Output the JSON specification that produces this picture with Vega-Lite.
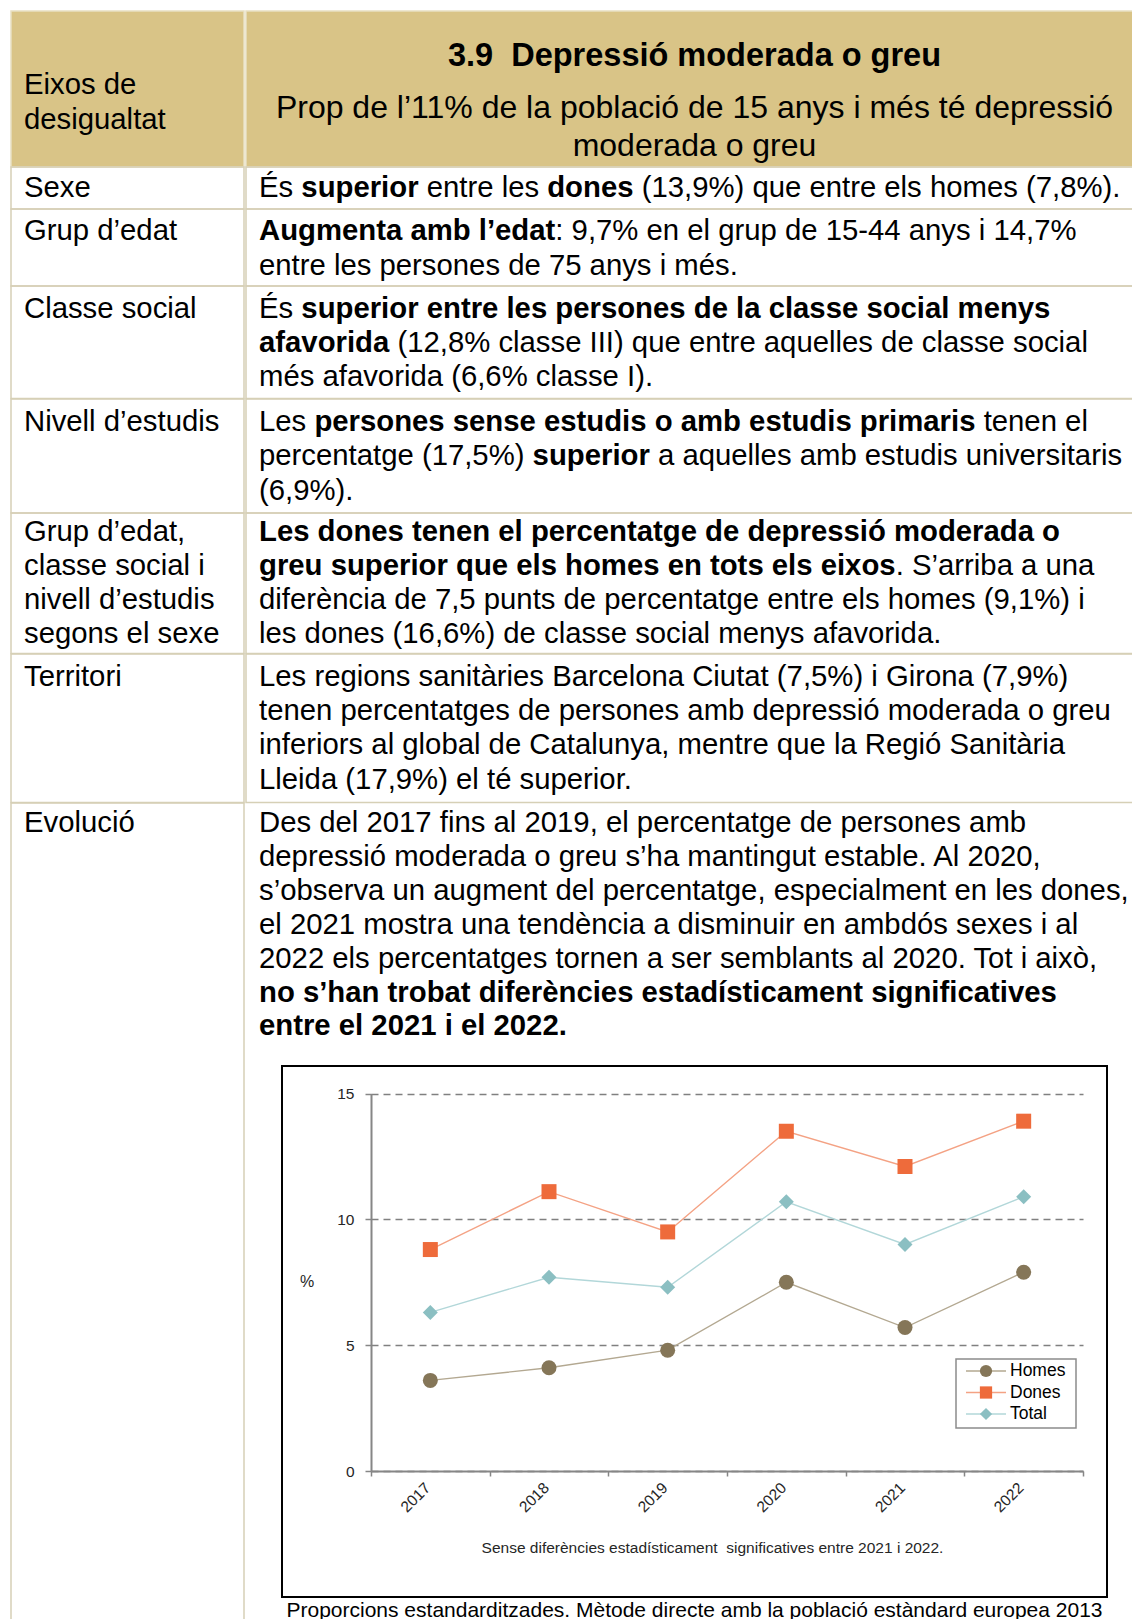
{
  "$schema": "https://vega.github.io/schema/vega-lite/v6.json",
  "padding": {"left": 10, "top": 10, "right": 0, "bottom": 0},
  "background": "white",
  "config": {"view": {"stroke": null}, "concat": {"spacing": 0}},
  "datasets": {
    "txt": [
      {"c": "hl", "ln": 0, "sg": 0, "t": "Eixos de", "strong": false},
      {"c": "hl", "ln": 1, "sg": 0, "t": "desigualtat", "strong": false},
      {"c": "hr", "ln": 0, "sg": 0, "t": "3.9\u00a0 Depressió moderada o greu", "strong": true},
      {"c": "hr", "ln": 1, "sg": 0, "t": "Prop de l’11% de la població de 15 anys i més té depressió", "strong": false},
      {"c": "hr", "ln": 2, "sg": 0, "t": "moderada o greu", "strong": false},
      {"c": "l1", "ln": 0, "sg": 0, "t": "Sexe", "strong": false},
      {"c": "r1", "ln": 0, "sg": 0, "t": "És ", "strong": false},
      {"c": "r1", "ln": 0, "sg": 1, "t": "superior ", "strong": true},
      {"c": "r1", "ln": 0, "sg": 2, "t": "entre les ", "strong": false},
      {"c": "r1", "ln": 0, "sg": 3, "t": "dones ", "strong": true},
      {"c": "r1", "ln": 0, "sg": 4, "t": "(13,9%) que entre els homes (7,8%).", "strong": false},
      {"c": "l2", "ln": 0, "sg": 0, "t": "Grup d’edat", "strong": false},
      {"c": "r2", "ln": 0, "sg": 0, "t": "Augmenta amb l’edat", "strong": true},
      {"c": "r2", "ln": 0, "sg": 1, "t": ": 9,7% en el grup de 15-44 anys i 14,7%", "strong": false},
      {"c": "r2", "ln": 1, "sg": 0, "t": "entre les persones de 75 anys i més.", "strong": false},
      {"c": "l3", "ln": 0, "sg": 0, "t": "Classe social", "strong": false},
      {"c": "r3", "ln": 0, "sg": 0, "t": "És ", "strong": false},
      {"c": "r3", "ln": 0, "sg": 1, "t": "superior entre les persones de la classe social menys", "strong": true},
      {"c": "r3", "ln": 1, "sg": 0, "t": "afavorida ", "strong": true},
      {"c": "r3", "ln": 1, "sg": 1, "t": "(12,8% classe III) que entre aquelles de classe social", "strong": false},
      {"c": "r3", "ln": 2, "sg": 0, "t": "més afavorida (6,6% classe I).", "strong": false},
      {"c": "l4", "ln": 0, "sg": 0, "t": "Nivell d’estudis", "strong": false},
      {"c": "r4", "ln": 0, "sg": 0, "t": "Les ", "strong": false},
      {"c": "r4", "ln": 0, "sg": 1, "t": "persones sense estudis o amb estudis primaris ", "strong": true},
      {"c": "r4", "ln": 0, "sg": 2, "t": "tenen el", "strong": false},
      {"c": "r4", "ln": 1, "sg": 0, "t": "percentatge (17,5%) ", "strong": false},
      {"c": "r4", "ln": 1, "sg": 1, "t": "superior ", "strong": true},
      {"c": "r4", "ln": 1, "sg": 2, "t": "a aquelles amb estudis universitaris", "strong": false},
      {"c": "r4", "ln": 2, "sg": 0, "t": "(6,9%).", "strong": false},
      {"c": "l5", "ln": 0, "sg": 0, "t": "Grup d’edat,", "strong": false},
      {"c": "l5", "ln": 1, "sg": 0, "t": "classe social i", "strong": false},
      {"c": "l5", "ln": 2, "sg": 0, "t": "nivell d’estudis", "strong": false},
      {"c": "l5", "ln": 3, "sg": 0, "t": "segons el sexe", "strong": false},
      {"c": "r5", "ln": 0, "sg": 0, "t": "Les dones tenen el percentatge de depressió moderada o", "strong": true},
      {"c": "r5", "ln": 1, "sg": 0, "t": "greu superior que els homes en tots els eixos", "strong": true},
      {"c": "r5", "ln": 1, "sg": 1, "t": ". S’arriba a una", "strong": false},
      {"c": "r5", "ln": 2, "sg": 0, "t": "diferència de 7,5 punts de percentatge entre els homes (9,1%) i", "strong": false},
      {"c": "r5", "ln": 3, "sg": 0, "t": "les dones (16,6%) de classe social menys afavorida.", "strong": false},
      {"c": "l6", "ln": 0, "sg": 0, "t": "Territori", "strong": false},
      {"c": "r6", "ln": 0, "sg": 0, "t": "Les regions sanitàries Barcelona Ciutat (7,5%) i Girona (7,9%)", "strong": false},
      {"c": "r6", "ln": 1, "sg": 0, "t": "tenen percentatges de persones amb depressió moderada o greu", "strong": false},
      {"c": "r6", "ln": 2, "sg": 0, "t": "inferiors al global de Catalunya, mentre que la Regió Sanitària", "strong": false},
      {"c": "r6", "ln": 3, "sg": 0, "t": "Lleida (17,9%) el té superior.", "strong": false},
      {"c": "l7", "ln": 0, "sg": 0, "t": "Evolució", "strong": false},
      {"c": "r7", "ln": 0, "sg": 0, "t": "Des del 2017 fins al 2019, el percentatge de persones amb", "strong": false},
      {"c": "r7", "ln": 1, "sg": 0, "t": "depressió moderada o greu s’ha mantingut estable. Al 2020,", "strong": false},
      {"c": "r7", "ln": 2, "sg": 0, "t": "s’observa un augment del percentatge, especialment en les dones,", "strong": false},
      {"c": "r7", "ln": 3, "sg": 0, "t": "el 2021 mostra una tendència a disminuir en ambdós sexes i al", "strong": false},
      {"c": "r7", "ln": 4, "sg": 0, "t": "2022 els percentatges tornen a ser semblants al 2020. Tot i això,", "strong": false},
      {"c": "r7", "ln": 5, "sg": 0, "t": "no s’han trobat diferències estadísticament significatives", "strong": true},
      {"c": "r7", "ln": 6, "sg": 0, "t": "entre el 2021 i el 2022.", "strong": true}
    ],
    "chart": [
      {"year": "2017", "serie": "Homes", "pct": 3.6},
      {"year": "2018", "serie": "Homes", "pct": 4.1},
      {"year": "2019", "serie": "Homes", "pct": 4.8},
      {"year": "2020", "serie": "Homes", "pct": 7.5},
      {"year": "2021", "serie": "Homes", "pct": 5.7},
      {"year": "2022", "serie": "Homes", "pct": 7.9},
      {"year": "2017", "serie": "Dones", "pct": 8.8},
      {"year": "2018", "serie": "Dones", "pct": 11.1},
      {"year": "2019", "serie": "Dones", "pct": 9.5},
      {"year": "2020", "serie": "Dones", "pct": 13.5},
      {"year": "2021", "serie": "Dones", "pct": 12.1},
      {"year": "2022", "serie": "Dones", "pct": 13.9},
      {"year": "2017", "serie": "Total", "pct": 6.3},
      {"year": "2018", "serie": "Total", "pct": 7.7},
      {"year": "2019", "serie": "Total", "pct": 7.3},
      {"year": "2020", "serie": "Total", "pct": 10.7},
      {"year": "2021", "serie": "Total", "pct": 9.0},
      {"year": "2022", "serie": "Total", "pct": 10.9}
    ],
    "series": [{"serie": "Homes"}, {"serie": "Dones"}, {"serie": "Total"}],
    "box": [{"part": "legend"}]
  },
  "data": {"name": "txt"},
  "transform": [
    {"calculate": "datum.c == 'r1' ? (datum.sg == 1 ? 1445 : datum.sg == 2 ? 5724 : datum.sg == 3 ? 9837 : datum.sg == 4 ? 13060 : 0) : datum.c == 'r2' ? (datum.sg == 1 ? 10113 : 0) : datum.c == 'r3' ? (datum.ln == 0 && datum.sg == 1 ? 1445 : datum.ln == 1 && datum.sg == 1 ? 4724 : 0) : datum.c == 'r4' ? (datum.ln == 0 ? (datum.sg == 1 ? 1890 : datum.sg == 2 ? 24732 : 0) : datum.ln == 1 ? (datum.sg == 1 ? 9338 : datum.sg == 2 ? 13617 : 0) : 0) : datum.c == 'r5' ? (datum.ln == 1 && datum.sg == 1 ? 21730 : 0) : 0", "as": "lead"}
  ],
  "spacing": 0,
  "resolve": {"scale": {"x": "independent", "y": "independent"}},
  "hconcat": [
    {
      "spacing": 0, "bounds": "flush",
      "resolve": {"scale": {"x": "independent", "y": "independent"}},
      "vconcat": [
        {"width": 233, "height": 156, "view": {"fill": "#D9C487", "stroke": "#E8E0C2", "strokeWidth": 1.5},
         "transform": [{"filter": "datum.c == 'hl'"}],
         "mark": {"type": "text", "align": "left", "baseline": "alphabetic", "font": "Liberation Sans", "fontSize": 29.3, "color": "#000000"},
         "encoding": {
           "x": {"field": "lead", "type": "quantitative", "scale": {"domain": [0, 1000], "range": [13, 42.3], "nice": false, "zero": false}, "axis": null},
           "y": {"field": "ln", "type": "quantitative", "scale": {"domain": [0, 1], "range": [83, 118], "nice": false, "zero": false}, "axis": null},
           "text": {"field": "t"}}},
        {"width": 233, "height": 42, "view": {"stroke": "#D6D0B6", "strokeWidth": 1.5},
         "transform": [{"filter": "datum.c == 'l1'"}],
         "mark": {"type": "text", "align": "left", "baseline": "alphabetic", "font": "Liberation Sans", "fontSize": 29.3, "color": "#000000"},
         "encoding": {
           "x": {"field": "lead", "type": "quantitative", "scale": {"domain": [0, 1000], "range": [13, 42.3], "nice": false, "zero": false}, "axis": null},
           "y": {"field": "ln", "type": "quantitative", "scale": {"domain": [0, 1], "range": [29.5, 64.1], "nice": false, "zero": false}, "axis": null},
           "text": {"field": "t"}}},
        {"width": 233, "height": 77, "view": {"stroke": "#D6D0B6", "strokeWidth": 1.5},
         "transform": [{"filter": "datum.c == 'l2'"}],
         "mark": {"type": "text", "align": "left", "baseline": "alphabetic", "font": "Liberation Sans", "fontSize": 29.3, "color": "#000000"},
         "encoding": {
           "x": {"field": "lead", "type": "quantitative", "scale": {"domain": [0, 1000], "range": [13, 42.3], "nice": false, "zero": false}, "axis": null},
           "y": {"field": "ln", "type": "quantitative", "scale": {"domain": [0, 1], "range": [31, 66], "nice": false, "zero": false}, "axis": null},
           "text": {"field": "t"}}},
        {"width": 233, "height": 112.5, "view": {"stroke": "#D6D0B6", "strokeWidth": 1.5},
         "transform": [{"filter": "datum.c == 'l3'"}],
         "mark": {"type": "text", "align": "left", "baseline": "alphabetic", "font": "Liberation Sans", "fontSize": 29.3, "color": "#000000"},
         "encoding": {
           "x": {"field": "lead", "type": "quantitative", "scale": {"domain": [0, 1000], "range": [13, 42.3], "nice": false, "zero": false}, "axis": null},
           "y": {"field": "ln", "type": "quantitative", "scale": {"domain": [0, 1], "range": [32.3, 66], "nice": false, "zero": false}, "axis": null},
           "text": {"field": "t"}}},
        {"width": 233, "height": 114, "view": {"stroke": "#D6D0B6", "strokeWidth": 1.5},
         "transform": [{"filter": "datum.c == 'l4'"}],
         "mark": {"type": "text", "align": "left", "baseline": "alphabetic", "font": "Liberation Sans", "fontSize": 29.3, "color": "#000000"},
         "encoding": {
           "x": {"field": "lead", "type": "quantitative", "scale": {"domain": [0, 1000], "range": [13, 42.3], "nice": false, "zero": false}, "axis": null},
           "y": {"field": "ln", "type": "quantitative", "scale": {"domain": [0, 1], "range": [31.8, 66.4], "nice": false, "zero": false}, "axis": null},
           "text": {"field": "t"}}},
        {"width": 233, "height": 140.5, "view": {"stroke": "#D6D0B6", "strokeWidth": 1.5},
         "transform": [{"filter": "datum.c == 'l5'"}],
         "mark": {"type": "text", "align": "left", "baseline": "alphabetic", "font": "Liberation Sans", "fontSize": 29.3, "color": "#000000"},
         "encoding": {
           "x": {"field": "lead", "type": "quantitative", "scale": {"domain": [0, 1000], "range": [13, 42.3], "nice": false, "zero": false}, "axis": null},
           "y": {"field": "ln", "type": "quantitative", "scale": {"domain": [0, 1], "range": [28.3, 62.3], "nice": false, "zero": false}, "axis": null},
           "text": {"field": "t"}}},
        {"width": 233, "height": 148.5, "view": {"stroke": "#D6D0B6", "strokeWidth": 1.5},
         "transform": [{"filter": "datum.c == 'l6'"}],
         "mark": {"type": "text", "align": "left", "baseline": "alphabetic", "font": "Liberation Sans", "fontSize": 29.3, "color": "#000000"},
         "encoding": {
           "x": {"field": "lead", "type": "quantitative", "scale": {"domain": [0, 1000], "range": [13, 42.3], "nice": false, "zero": false}, "axis": null},
           "y": {"field": "ln", "type": "quantitative", "scale": {"domain": [0, 1], "range": [31.5, 65.9], "nice": false, "zero": false}, "axis": null},
           "text": {"field": "t"}}},
        {"width": 233, "height": 819, "view": {"stroke": "#D6D0B6", "strokeWidth": 1.5},
         "transform": [{"filter": "datum.c == 'l7'"}],
         "mark": {"type": "text", "align": "left", "baseline": "alphabetic", "font": "Liberation Sans", "fontSize": 29.3, "color": "#000000"},
         "encoding": {
           "x": {"field": "lead", "type": "quantitative", "scale": {"domain": [0, 1000], "range": [13, 42.3], "nice": false, "zero": false}, "axis": null},
           "y": {"field": "ln", "type": "quantitative", "scale": {"domain": [0, 1], "range": [29, 62.9], "nice": false, "zero": false}, "axis": null},
           "text": {"field": "t"}}}
      ]
    },
    {
      "spacing": 0, "bounds": "flush", "center": true,
      "resolve": {"scale": {"x": "independent", "y": "independent"}},
      "vconcat": [
        {"width": 897, "height": 156, "view": {"fill": "#D9C487", "stroke": "#E8E0C2", "strokeWidth": 1.5},
         "transform": [{"filter": "datum.c == 'hr'"}],
         "encoding": {
           "y": {"field": "ln", "type": "quantitative", "scale": {"domain": [0, 1, 2], "range": [55, 107, 145], "nice": false, "zero": false}, "axis": null},
           "text": {"field": "t"}},
         "layer": [
           {"transform": [{"filter": "datum.strong"}], "mark": {"type": "text", "align": "center", "baseline": "alphabetic", "font": "Liberation Sans", "fontSize": 32.5, "fontWeight": "bold", "color": "#000000"}},
           {"transform": [{"filter": "!datum.strong"}], "mark": {"type": "text", "align": "center", "baseline": "alphabetic", "font": "Liberation Sans", "fontSize": 32, "color": "#000000"}}
         ]},
        {"width": 897, "height": 42, "view": {"stroke": "#D6D0B6", "strokeWidth": 1.5},
         "transform": [{"filter": "datum.c == 'r1'"}],
         "encoding": {
           "x": {"field": "lead", "type": "quantitative", "scale": {"domain": [0, 1000], "range": [13, 42.3], "nice": false, "zero": false}, "axis": null},
           "y": {"field": "ln", "type": "quantitative", "scale": {"domain": [0, 1], "range": [29.5, 64.1], "nice": false, "zero": false}, "axis": null},
           "text": {"field": "t"}},
         "layer": [
           {"transform": [{"filter": "!datum.strong"}], "mark": {"type": "text", "align": "left", "baseline": "alphabetic", "font": "Liberation Sans", "fontSize": 29.3, "color": "#000000"}},
           {"transform": [{"filter": "datum.strong"}], "mark": {"type": "text", "align": "left", "baseline": "alphabetic", "font": "Liberation Sans", "fontSize": 29.3, "fontWeight": "bold", "color": "#000000"}}
         ]},
        {"width": 897, "height": 77, "view": {"stroke": "#D6D0B6", "strokeWidth": 1.5},
         "transform": [{"filter": "datum.c == 'r2'"}],
         "encoding": {
           "x": {"field": "lead", "type": "quantitative", "scale": {"domain": [0, 1000], "range": [13, 42.3], "nice": false, "zero": false}, "axis": null},
           "y": {"field": "ln", "type": "quantitative", "scale": {"domain": [0, 1], "range": [31, 66], "nice": false, "zero": false}, "axis": null},
           "text": {"field": "t"}},
         "layer": [
           {"transform": [{"filter": "!datum.strong"}], "mark": {"type": "text", "align": "left", "baseline": "alphabetic", "font": "Liberation Sans", "fontSize": 29.3, "color": "#000000"}},
           {"transform": [{"filter": "datum.strong"}], "mark": {"type": "text", "align": "left", "baseline": "alphabetic", "font": "Liberation Sans", "fontSize": 29.3, "fontWeight": "bold", "color": "#000000"}}
         ]},
        {"width": 897, "height": 112.5, "view": {"stroke": "#D6D0B6", "strokeWidth": 1.5},
         "transform": [{"filter": "datum.c == 'r3'"}],
         "encoding": {
           "x": {"field": "lead", "type": "quantitative", "scale": {"domain": [0, 1000], "range": [13, 42.3], "nice": false, "zero": false}, "axis": null},
           "y": {"field": "ln", "type": "quantitative", "scale": {"domain": [0, 1], "range": [32.3, 66], "nice": false, "zero": false}, "axis": null},
           "text": {"field": "t"}},
         "layer": [
           {"transform": [{"filter": "!datum.strong"}], "mark": {"type": "text", "align": "left", "baseline": "alphabetic", "font": "Liberation Sans", "fontSize": 29.3, "color": "#000000"}},
           {"transform": [{"filter": "datum.strong"}], "mark": {"type": "text", "align": "left", "baseline": "alphabetic", "font": "Liberation Sans", "fontSize": 29.3, "fontWeight": "bold", "color": "#000000"}}
         ]},
        {"width": 897, "height": 114, "view": {"stroke": "#D6D0B6", "strokeWidth": 1.5},
         "transform": [{"filter": "datum.c == 'r4'"}],
         "encoding": {
           "x": {"field": "lead", "type": "quantitative", "scale": {"domain": [0, 1000], "range": [13, 42.3], "nice": false, "zero": false}, "axis": null},
           "y": {"field": "ln", "type": "quantitative", "scale": {"domain": [0, 1], "range": [31.8, 66.4], "nice": false, "zero": false}, "axis": null},
           "text": {"field": "t"}},
         "layer": [
           {"transform": [{"filter": "!datum.strong"}], "mark": {"type": "text", "align": "left", "baseline": "alphabetic", "font": "Liberation Sans", "fontSize": 29.3, "color": "#000000"}},
           {"transform": [{"filter": "datum.strong"}], "mark": {"type": "text", "align": "left", "baseline": "alphabetic", "font": "Liberation Sans", "fontSize": 29.3, "fontWeight": "bold", "color": "#000000"}}
         ]},
        {"width": 897, "height": 140.5, "view": {"stroke": "#D6D0B6", "strokeWidth": 1.5},
         "transform": [{"filter": "datum.c == 'r5'"}],
         "encoding": {
           "x": {"field": "lead", "type": "quantitative", "scale": {"domain": [0, 1000], "range": [13, 42.3], "nice": false, "zero": false}, "axis": null},
           "y": {"field": "ln", "type": "quantitative", "scale": {"domain": [0, 1], "range": [28.3, 62.3], "nice": false, "zero": false}, "axis": null},
           "text": {"field": "t"}},
         "layer": [
           {"transform": [{"filter": "!datum.strong"}], "mark": {"type": "text", "align": "left", "baseline": "alphabetic", "font": "Liberation Sans", "fontSize": 29.3, "color": "#000000"}},
           {"transform": [{"filter": "datum.strong"}], "mark": {"type": "text", "align": "left", "baseline": "alphabetic", "font": "Liberation Sans", "fontSize": 29.3, "fontWeight": "bold", "color": "#000000"}}
         ]},
        {"width": 897, "height": 148.5, "view": {"stroke": "#D6D0B6", "strokeWidth": 1.5},
         "transform": [{"filter": "datum.c == 'r6'"}],
         "mark": {"type": "text", "align": "left", "baseline": "alphabetic", "font": "Liberation Sans", "fontSize": 29.3, "color": "#000000"},
         "encoding": {
           "x": {"field": "lead", "type": "quantitative", "scale": {"domain": [0, 1000], "range": [13, 42.3], "nice": false, "zero": false}, "axis": null},
           "y": {"field": "ln", "type": "quantitative", "scale": {"domain": [0, 1], "range": [31.5, 65.9], "nice": false, "zero": false}, "axis": null},
           "text": {"field": "t"}}},
        {"width": 897, "height": 262.5, "view": {"stroke": null},
         "transform": [{"filter": "datum.c == 'r7'"}],
         "encoding": {
           "x": {"field": "lead", "type": "quantitative", "scale": {"domain": [0, 1000], "range": [13, 42.3], "nice": false, "zero": false}, "axis": null},
           "y": {"field": "ln", "type": "quantitative", "scale": {"domain": [0, 1], "range": [29, 62.9], "nice": false, "zero": false}, "axis": null},
           "text": {"field": "t"}},
         "layer": [
           {"transform": [{"filter": "!datum.strong"}], "mark": {"type": "text", "align": "left", "baseline": "alphabetic", "font": "Liberation Sans", "fontSize": 29.3, "color": "#000000"}},
           {"transform": [{"filter": "datum.strong"}], "mark": {"type": "text", "align": "left", "baseline": "alphabetic", "font": "Liberation Sans", "fontSize": 29.3, "fontWeight": "bold", "color": "#000000"}}
         ]},
        {"width": 825, "height": 531,
         "view": {"stroke": "#000000", "strokeWidth": 2, "fill": "#FFFFFF"},
         "title": {"text": "Proporcions estandarditzades. Mètode directe amb la població estàndard europea 2013", "orient": "bottom", "anchor": "middle", "frame": "group", "offset": 20, "baseline": "alphabetic", "font": "Liberation Sans", "fontSize": 21, "fontWeight": "normal", "color": "#000000"},
         "resolve": {"scale": {"x": "independent", "y": "independent"}},
         "layer": [
           {"data": {"name": "chart"},
            "encoding": {
              "x": {"field": "year", "type": "ordinal",
                    "scale": {"type": "band", "range": [89, 801], "paddingInner": 0, "paddingOuter": 0},
                    "axis": {"title": "Sense diferències estadísticament\u00a0 significatives entre 2021 i 2022.", "titleX": 430, "titleY": 81, "titleAlign": "center", "titleBaseline": "alphabetic", "titleFontSize": 15.5, "titleFontWeight": "normal", "titleFont": "Liberation Sans", "titleColor": "#262626",
                             "offset": -126, "labelAngle": -45, "labelOffset": -8, "labelFontSize": 15.5, "labelFont": "Liberation Sans", "labelColor": "#262626", "labelPadding": 4,
                             "tickBand": "extent", "tickSize": 5, "tickColor": "#868686", "tickWidth": 1.5, "domainColor": "#868686", "domainWidth": 2, "grid": false}},
              "y": {"field": "pct", "type": "quantitative",
                    "scale": {"domain": [0, 15], "range": [405, 27.5], "nice": false, "zero": false},
                    "axis": {"title": "%", "titleAngle": 0, "titleX": -64.5, "titleY": 220, "titleAlign": "center", "titleBaseline": "alphabetic", "titleFontSize": 16, "titleFontWeight": "normal", "titleFont": "Liberation Sans", "titleColor": "#262626",
                             "offset": -89, "values": [0, 5, 10, 15], "grid": true, "gridDash": [7, 5], "gridColor": "#808080", "gridWidth": 1.5,
                             "domainColor": "#868686", "domainWidth": 2, "tickSize": 6, "tickColor": "#868686", "tickWidth": 1.5,
                             "labelFontSize": 15.5, "labelFont": "Liberation Sans", "labelColor": "#262626", "labelPadding": 11}}
            },
            "layer": [
              {"mark": {"type": "line", "strokeWidth": 1.4},
               "encoding": {"stroke": {"field": "serie", "type": "nominal", "scale": {"domain": ["Homes", "Dones", "Total"], "range": ["#B3A891", "#F4A284", "#B2D7D9"]}, "legend": null}}},
              {"mark": {"type": "point", "filled": true, "size": 225, "opacity": 1},
               "encoding": {
                 "color": {"field": "serie", "type": "nominal", "scale": {"domain": ["Homes", "Dones", "Total"], "range": ["#857658", "#EE6B3B", "#8BBFC2"]}, "legend": null},
                 "shape": {"field": "serie", "type": "nominal", "scale": {"domain": ["Homes", "Dones", "Total"], "range": ["circle", "square", "diamond"]}, "legend": null}}}
            ]},
           {"data": {"name": "box"},
            "mark": {"type": "rect", "fill": "#FFFFFF", "stroke": "#8C8C8C", "strokeWidth": 1.5},
            "encoding": {"x": {"value": 674}, "x2": {"value": 794}, "y": {"value": 293}, "y2": {"value": 362}}},
           {"data": {"name": "series"},
            "encoding": {"y": {"field": "serie", "type": "nominal", "scale": {"type": "point", "domain": ["Homes", "Dones", "Total"], "range": [305, 348], "padding": 0}, "axis": null}},
            "layer": [
              {"mark": {"type": "rule", "strokeWidth": 1.4},
               "encoding": {"x": {"value": 684}, "x2": {"value": 724}, "stroke": {"field": "serie", "type": "nominal", "legend": null}}},
              {"mark": {"type": "point", "filled": true, "size": 150, "opacity": 1},
               "encoding": {"x": {"value": 704}, "color": {"field": "serie", "type": "nominal", "legend": null}, "shape": {"field": "serie", "type": "nominal", "legend": null}}},
              {"mark": {"type": "text", "align": "left", "baseline": "middle", "font": "Liberation Sans", "fontSize": 17.5, "color": "#000000"},
               "encoding": {"x": {"value": 728}, "text": {"field": "serie"}}}
            ]}
         ]}
      ]
    }
  ]
}
